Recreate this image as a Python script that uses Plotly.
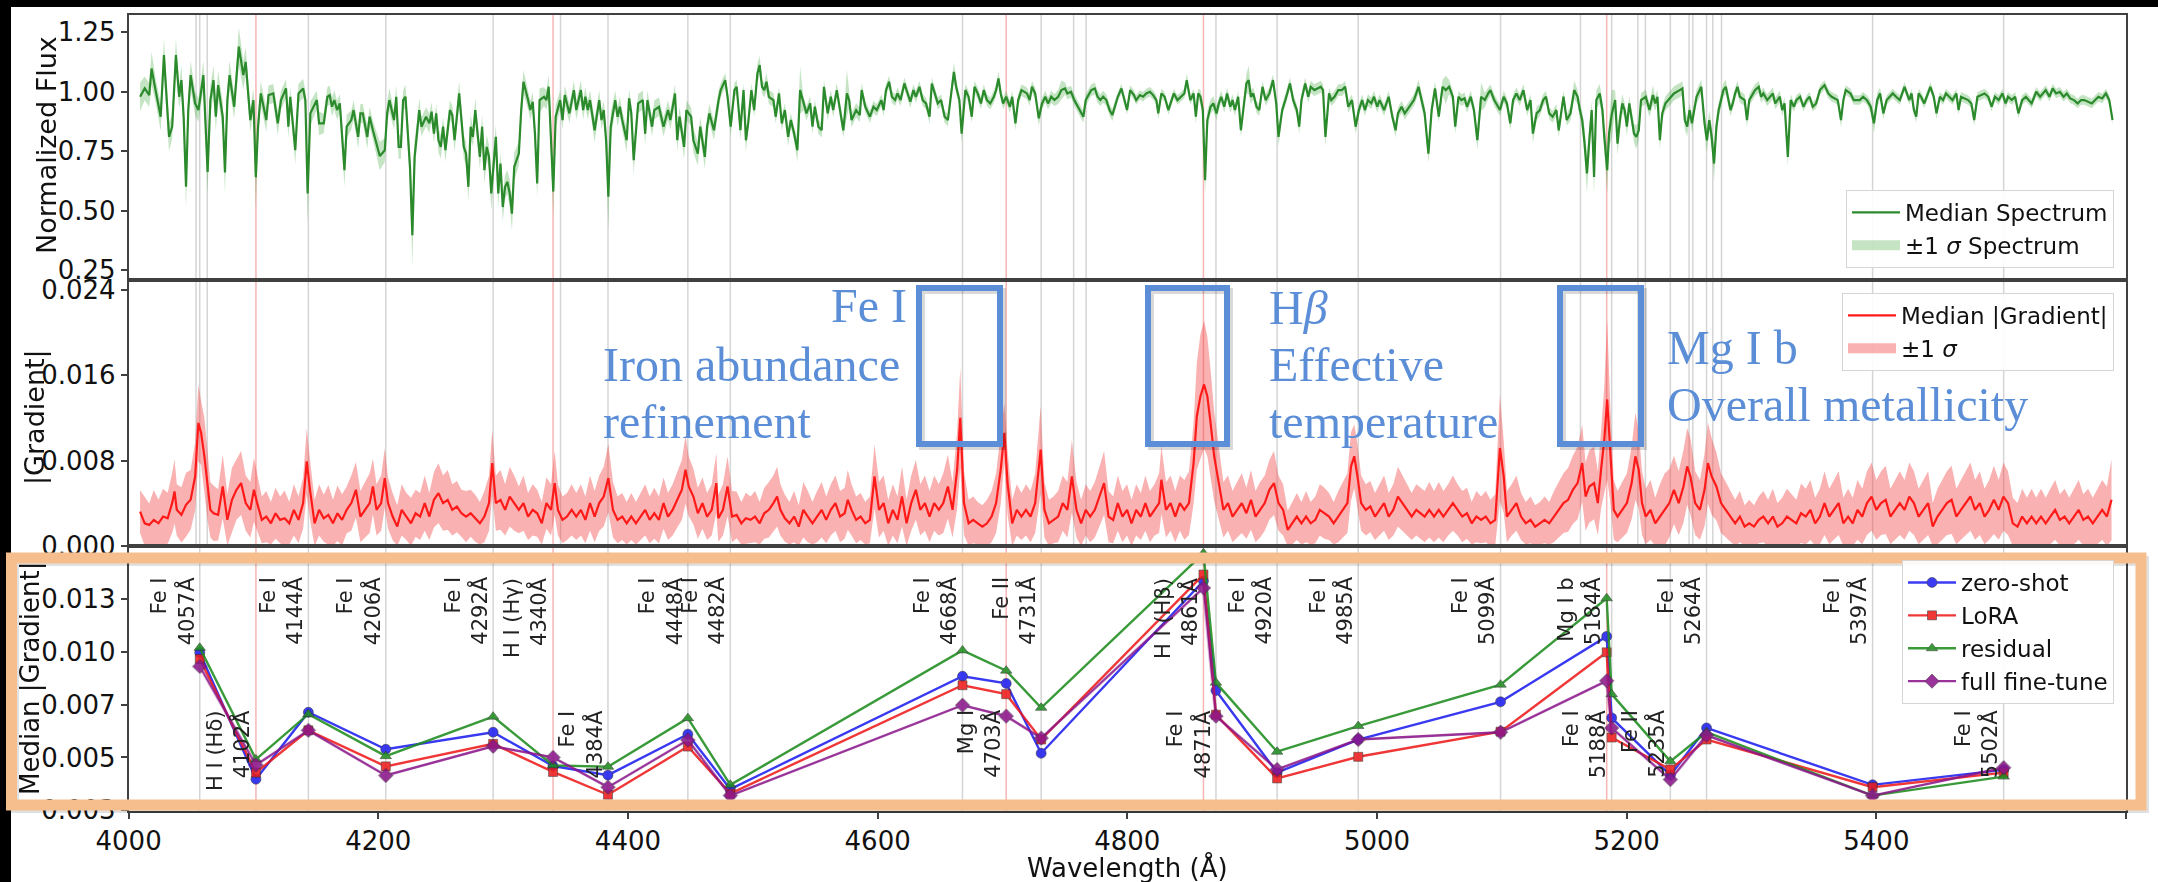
import numpy as np
import plotly.graph_objects as go
from plotly.subplots import make_subplots

W, H = 2158, 882
FONT = "DejaVu Sans"
SERIF = "Liberation Serif"
BLUE = "#5B8ED6"
ORANGE = "#F6BD8D"

# ---------------- top panel: median normalized flux ----------------
FLUX_WAVE = [
4009.2, 4012.9, 4016.5, 4018.4, 4022.1, 4025.7, 4028.3, 4032.4, 4034.9, 4037.9,
4040.5, 4042.3, 4044.1, 4046.0, 4047.8, 4049.7, 4053.3, 4055.9, 4057.7, 4059.9,
4063.3, 4065.5, 4068.0, 4069.9, 4071.7, 4075.4, 4077.2, 4079.1, 4080.9, 4084.6,
4088.3, 4091.9, 4093.8, 4097.5, 4100.0, 4101.9, 4103.7, 4105.9, 4110.3, 4112.1,
4115.9, 4119.5, 4122.1, 4126.1, 4128.0, 4129.5, 4133.5, 4136.1, 4139.8, 4141.6,
4143.4, 4145.6, 4150.8, 4152.6, 4156.3, 4159.2, 4161.1, 4162.9, 4164.8, 4167.0,
4169.2, 4172.9, 4174.7, 4178.4, 4180.2, 4183.9, 4185.7, 4187.6, 4191.2, 4193.1,
4195.7, 4199.3, 4201.2, 4205.2, 4207.1, 4208.9, 4212.6, 4214.4, 4216.3, 4218.1,
4219.9, 4221.8, 4225.4, 4227.3, 4229.1, 4231.0, 4232.8, 4234.6, 4238.3, 4240.9,
4242.7, 4244.6, 4246.4, 4248.2, 4250.1, 4251.9, 4253.8, 4257.4, 4259.3, 4261.1,
4264.8, 4268.5, 4270.3, 4272.2, 4274.0, 4275.8, 4277.7, 4281.4, 4283.2, 4285.0,
4286.9, 4288.7, 4290.5, 4294.2, 4296.1, 4297.9, 4299.7, 4301.6, 4303.4, 4305.3,
4307.1, 4308.9, 4312.6, 4314.5, 4316.3, 4320.0, 4321.8, 4323.7, 4325.5, 4327.3,
4329.2, 4332.8, 4334.7, 4336.5, 4338.4, 4340.2, 4342.1, 4345.7, 4347.6, 4349.4,
4353.1, 4356.7, 4358.6, 4362.3, 4364.1, 4365.9, 4367.8, 4369.6, 4373.3, 4377.0,
4378.8, 4380.6, 4382.5, 4384.3, 4386.2, 4389.8, 4391.7, 4393.5, 4395.4, 4399.0,
4400.9, 4402.7, 4404.6, 4406.4, 4408.2, 4411.9, 4413.8, 4415.6, 4419.3, 4421.1,
4424.8, 4428.5, 4432.1, 4434.0, 4437.7, 4439.5, 4441.3, 4445.0, 4446.8, 4450.6,
4452.4, 4456.0, 4457.9, 4461.6, 4463.4, 4465.2, 4468.9, 4472.6,
4474.3, 4477.9, 4479.8, 4482.3, 4485.3, 4487.1, 4490.1, 4492.6, 4494.5, 4496.3,
4498.9, 4501.1, 4503.7, 4505.5, 4507.4, 4509.2, 4511.0, 4512.9, 4516.5, 4518.4,
4521.0, 4523.2, 4525.7, 4528.3, 4530.5, 4533.1, 4535.7, 4537.9, 4540.5, 4543.0,
4546.0, 4547.8, 4549.7, 4552.6, 4555.2, 4557.0, 4560.0, 4562.5, 4564.4, 4567.3,
4569.9, 4572.5, 4575.4, 4577.2, 4579.1, 4582.8, 4585.7, 4587.2, 4590.1, 4593.8,
4596.7, 4599.3, 4603.0, 4604.8, 4606.7, 4609.2, 4611.4, 4614.0, 4615.9, 4618.4,
4621.4, 4623.2, 4626.2, 4628.7, 4630.6, 4633.5, 4636.1, 4638.7, 4641.6, 4643.4,
4646.0, 4648.2, 4650.8, 4653.7, 4656.3, 4659.3, 4661.1, 4662.9, 4665.5, 4667.3,
4670.3, 4672.9, 4675.4, 4677.6, 4680.2, 4682.8, 4685.0, 4687.6, 4690.2, 4693.1,
4694.9, 4696.8, 4698.6, 4700.5, 4703.0, 4706.0, 4707.8, 4710.4, 4712.6, 4715.2,
4719.6, 4721.8, 4723.6, 4726.2, 4729.1, 4731.7, 4734.3, 4736.5, 4739.1, 4741.6,
4744.6, 4747.2, 4750.1, 4752.0, 4754.9, 4757.5, 4762.2, 4764.8, 4766.7, 4771.1,
4774.0, 4776.2, 4778.4, 4780.6, 4783.2, 4785.8, 4788.0, 4790.6, 4792.4, 4795.3,
4797.9, 4799.8, 4802.3, 4805.3, 4807.1, 4810.1, 4812.6, 4815.2, 4818.1, 4820.7,
4823.3, 4824.8, 4827.3, 4829.9, 4832.9, 4834.7, 4837.3, 4840.2, 4843.2, 4845.7,
4847.6, 4850.5, 4853.1, 4854.9, 4856.8, 4858.6, 4860.5, 4862.3, 4864.1, 4866.7,
4868.9, 4871.5, 4873.3, 4875.2, 4877.7, 4879.9, 4882.5, 4884.3, 4886.2, 4888.8,
4891.0, 4893.5, 4895.4, 4897.2, 4899.1, 4900.9, 4903.5, 4905.7, 4908.3, 4910.8,
4913.8, 4916.7, 4919.3, 4921.1, 4924.1, 4926.6, 4928.5, 4930.3, 4932.9, 4935.8,
4937.7, 4939.5, 4942.5, 4945.0, 4946.9, 4949.8, 4952.4, 4955.0, 4956.8, 4958.7,
4961.6, 4963.4, 4966.0, 4969.0, 4971.9, 4974.5, 4977.0, 4980.0, 4982.9, 4985.5,
4988.1, 4990.3, 4992.8, 4995.4, 4997.6, 5000.2, 5002.1, 5005.7, 5009.4, 5012.3,
5014.9, 5016.8, 5019.7, 5022.3, 5026.0, 5029.6, 5033.3,
5038.2, 5041.2, 5043.8, 5046.5, 5049.5, 5052.5, 5055.1, 5057.8, 5060.8, 5062.7,
5065.3, 5067.6, 5070.2, 5072.1, 5075.1, 5077.7, 5080.4, 5083.4, 5086.4, 5089.1,
5090.9, 5093.9, 5098.5, 5101.5, 5104.1, 5106.8, 5109.0, 5111.7, 5114.3, 5117.3,
5120.3, 5123.0, 5124.9, 5127.9, 5130.5, 5133.1, 5135.4, 5138.0, 5140.7, 5143.7,
5145.6, 5147.5, 5149.4, 5152.0, 5155.0, 5158.0, 5160.7, 5162.5, 5164.4, 5166.3,
5168.2, 5170.1, 5172.0, 5173.9, 5175.7, 5178.4, 5180.6, 5182.1, 5184.4, 5185.9,
5188.2, 5190.8, 5192.7, 5194.6, 5196.5, 5198.4, 5200.2, 5202.1, 5204.0, 5205.9,
5207.8, 5209.7, 5211.5, 5215.3, 5218.3, 5221.0, 5222.9, 5224.7, 5226.6, 5228.5,
5231.1, 5233.4, 5237.9, 5242.5, 5244.7, 5246.6, 5248.5, 5250.4, 5252.3, 5254.1,
5256.0, 5259.8, 5262.4, 5264.3, 5266.2, 5268.1, 5270.0, 5271.9, 5273.7, 5275.6,
5277.5, 5279.4, 5281.3, 5283.2, 5285.0, 5286.9, 5288.8, 5290.7, 5294.5, 5296.4,
5298.2, 5302.8, 5305.8, 5307.7, 5309.5, 5312.6, 5317.1, 5319.0, 5320.8, 5322.7,
5324.6, 5326.5, 5329.1, 5331.4, 5334.0, 5335.9, 5338.9, 5341.6, 5344.2, 5346.5,
5349.1, 5351.8, 5354.8, 5358.5, 5361.5, 5364.2, 5369.1, 5371.7, 5373.6, 5375.5,
5379.3, 5381.9, 5386.8, 5389.4, 5392.5, 5395.5, 5398.1, 5400.7, 5403.0, 5405.6,
5408.3, 5413.2, 5415.8, 5418.8, 5422.6, 5426.4, 5428.2, 5430.1, 5432.0, 5433.9,
5435.8, 5438.4, 5443.3, 5446.0, 5448.2, 5450.9, 5453.5, 5455.8, 5458.4, 5461.0,
5464.1, 5465.9, 5467.8, 5473.5, 5476.1, 5478.4, 5481.0, 5486.7, 5489.7, 5492.3,
5495.0, 5498.0, 5501.0, 5503.6, 5505.5, 5508.5, 5511.2, 5513.8, 5516.8, 5519.8,
5524.4, 5528.1, 5531.2, 5535.7, 5538.7, 5541.3, 5544.0, 5547.0, 5550.0, 5552.6,
5555.3, 5558.3, 5561.3, 5564.0, 5566.6, 5569.6, 5572.6, 5575.3, 5577.9, 5580.9,
5583.9, 5586.6, 5589.2]

FLUX_MEDIAN = [
0.979, 1.014, 0.986, 1.098, 0.993, 0.895, 1.154, 0.810, 0.853, 1.154,
0.979, 1.049, 0.895, 0.600, 0.923, 1.070, 0.951, 0.923, 0.986, 1.070,
0.663, 0.965, 1.049, 0.895, 1.028, 0.895, 0.660, 0.965, 1.070, 0.937,
1.190, 1.070, 1.126, 0.881, 0.965, 0.640, 0.853, 0.993, 0.881, 0.986,
0.993, 0.867, 0.965, 1.014, 0.853, 0.979, 0.754, 0.993, 1.014, 0.965,
0.572, 0.909, 0.965, 0.867, 0.867, 0.979, 0.986, 0.937, 0.965, 0.923,
0.951, 0.670, 0.853, 0.881, 0.923, 0.810, 0.909, 0.909, 0.810, 0.895,
0.838, 0.768, 0.730, 0.754, 0.909, 0.965, 0.881, 0.979, 0.768, 0.768,
0.965, 0.979, 0.684, 0.396, 0.726, 0.824, 0.923, 0.853, 0.895, 0.867,
0.916, 0.824, 0.909, 0.796, 0.768, 0.853, 0.754, 0.923, 0.902, 0.796,
0.993, 0.768, 0.740, 0.600, 0.853, 0.810, 0.923, 0.726, 0.853, 0.670,
0.768, 0.726, 0.572, 0.810, 0.572, 0.698, 0.515, 0.600, 0.621, 0.572,
0.487, 0.684, 0.740, 0.923, 1.042, 0.965, 0.923, 0.958, 0.824, 0.614,
0.965, 0.979, 0.965, 1.021, 0.768, 0.580, 0.895, 0.965, 0.881, 0.986,
0.909, 1.007, 0.923, 1.007, 0.923, 0.979, 0.923, 0.965, 0.838, 0.965,
0.881, 0.923, 0.796, 0.558, 0.853, 0.965, 0.895, 0.937, 0.881, 0.796,
0.972, 0.909, 0.712, 0.853, 0.951, 0.965, 0.824, 0.965, 0.853, 0.923,
0.937, 0.853, 0.923, 0.881, 0.993, 0.796, 0.895, 0.768, 0.923, 0.895,
0.796, 0.740, 0.853, 0.726, 0.853, 0.909, 0.838, 0.965,
1.007, 1.049, 0.979, 0.853, 1.007, 1.021, 0.838, 1.007, 0.796, 0.867,
1.007, 0.923, 1.077, 1.112, 1.021, 1.007, 1.042, 0.979, 0.965, 0.895,
0.993, 0.867, 0.923, 0.810, 0.881, 0.824, 0.754, 1.007, 0.951, 0.909,
0.951, 0.853, 0.937, 0.853, 0.838, 1.021, 0.909, 0.979, 0.923, 1.007,
0.923, 0.838, 0.993, 0.965, 0.881, 0.923, 0.902, 1.007, 0.937, 0.895,
0.937, 0.923, 0.965, 0.923, 1.007, 1.042, 0.979, 0.965, 0.993, 0.965,
1.035, 1.007, 0.958, 1.007, 0.979, 1.021, 0.965, 0.951, 0.895, 1.035,
0.993, 0.951, 0.965, 0.895, 0.881, 1.021, 1.084, 1.021, 0.965, 0.824,
1.007, 0.979, 0.895, 1.021, 0.993, 0.951, 1.007, 0.965, 0.951, 0.979,
1.007, 1.056, 0.993, 0.951, 0.979, 0.937, 0.979, 0.867, 0.965, 1.007,
0.993, 0.965, 1.021, 0.993, 0.888, 0.951, 0.979, 0.951, 0.979, 0.965,
0.979, 1.007, 1.014, 0.993, 1.000, 0.965, 0.923, 0.895, 0.965, 1.007,
1.014, 0.979, 0.965, 0.979, 0.965, 0.923, 0.902, 0.951, 0.979, 1.014,
0.965, 0.923, 1.007, 0.986, 0.965, 0.986, 0.979, 0.993, 1.000, 0.986,
0.965, 0.909, 0.993, 0.979, 0.923, 0.951, 0.993, 0.965, 0.979, 0.993,
1.049, 0.965, 0.993, 0.895, 0.993, 0.979, 0.923, 0.628, 0.881, 0.937,
0.951, 0.909, 0.951, 0.979, 0.937, 0.993, 0.937, 0.965, 0.923, 0.979,
0.838, 0.965, 1.035, 1.049, 0.979, 0.993, 0.937, 0.923, 1.021, 0.965,
0.993, 1.049, 0.951, 0.810, 0.923, 0.965, 1.007, 1.035, 0.965, 0.923,
0.853, 0.965, 1.035, 0.979, 1.021, 1.007, 1.014, 1.021, 1.007, 0.810,
0.993, 0.965, 0.979, 1.007, 1.007, 1.021, 0.937, 0.965, 0.853, 0.923,
0.965, 0.923, 0.965, 0.951, 0.979, 0.937, 0.965, 0.923, 0.979, 0.895,
0.838, 0.909, 0.937, 0.909, 0.937, 0.965, 1.021,
0.909, 0.740, 0.923, 1.014, 0.895, 1.021, 1.007, 1.021, 0.979, 0.853,
0.979, 0.965, 0.972, 0.937, 0.979, 0.923, 0.796, 0.979, 0.965, 0.993,
1.007, 0.965, 0.923, 0.979, 0.951, 0.867, 0.965, 0.993, 0.965, 1.007,
0.923, 0.965, 0.824, 0.909, 0.923, 0.965, 0.979, 0.909, 0.895, 0.923,
0.838, 0.909, 0.979, 0.881, 0.909, 1.007, 0.979, 0.923, 0.881, 0.782,
0.656, 0.796, 0.923, 0.642, 0.965, 0.993, 0.923, 0.810, 0.670, 0.824,
0.909, 0.965, 0.782, 0.881, 0.951, 0.923, 0.853, 0.951, 0.895, 0.824,
0.810, 0.838, 0.965, 0.979, 0.923, 0.986, 0.951, 0.979, 0.796, 0.909,
0.951, 0.965, 0.993, 1.007, 1.014, 0.881, 0.853, 0.923, 0.867, 0.923,
0.979, 1.021, 0.867, 0.796, 0.881, 0.810, 0.698, 0.853, 0.923, 0.965,
1.007, 1.021, 0.965, 0.923, 0.951, 0.993, 1.021, 0.979, 0.965, 0.881,
0.965, 1.007, 1.021, 0.979, 0.993, 0.965, 0.993, 0.951, 0.965, 0.979,
0.923, 0.951, 0.726, 0.965, 0.937, 0.965, 0.979, 0.937, 0.965, 0.979,
0.937, 0.951, 1.007, 1.028, 0.993, 0.979, 0.965, 0.881, 0.965, 1.007,
0.993, 0.965, 0.965, 0.979, 0.965, 0.937, 0.867, 0.965, 0.993, 0.909,
0.965, 0.993, 0.979, 0.965, 1.021, 0.965, 0.993, 0.923, 0.895, 0.993,
0.979, 0.951, 1.021, 0.979, 0.909, 0.979, 0.965, 0.993, 0.979, 0.965,
0.993, 0.923, 0.979, 0.965, 0.951, 0.881, 0.979, 0.993, 0.979, 0.937,
0.979, 0.965, 0.993, 0.951, 0.979, 0.965, 0.979, 0.909, 0.965, 0.979,
0.951, 1.000, 0.979, 1.007, 0.979, 1.014, 0.993, 1.000, 0.979, 0.993,
0.972, 0.965, 0.951, 0.965, 0.965, 0.958, 0.951, 0.965, 0.979, 0.972,
0.993, 0.965, 0.881]

FLUX_SIGMA = [
0.06, 0.05, 0.05, 0.07, 0.05, 0.06, 0.07, 0.06, 0.05, 0.07,
0.05, 0.06, 0.06, 0.09, 0.06, 0.06, 0.05, 0.05, 0.05, 0.06,
0.09, 0.06, 0.06, 0.06, 0.06, 0.06, 0.09, 0.06, 0.06, 0.05,
0.08, 0.06, 0.06, 0.05, 0.05, 0.13, 0.06, 0.05, 0.05, 0.04,
0.04, 0.05, 0.04, 0.04, 0.05, 0.04, 0.06, 0.04, 0.04, 0.04,
0.13, 0.05, 0.04, 0.05, 0.04, 0.04, 0.04, 0.04, 0.04, 0.04,
0.04, 0.07, 0.05, 0.04, 0.04, 0.05, 0.04, 0.04, 0.05, 0.04,
0.04, 0.05, 0.06, 0.05, 0.05, 0.05, 0.04, 0.05, 0.05, 0.05,
0.04, 0.05, 0.07, 0.13, 0.07, 0.05, 0.05, 0.04, 0.04, 0.04,
0.04, 0.04, 0.04, 0.05, 0.05, 0.04, 0.05, 0.04, 0.04, 0.05,
0.05, 0.05, 0.05, 0.06, 0.05, 0.04, 0.05, 0.05, 0.05, 0.06,
0.05, 0.05, 0.07, 0.05, 0.06, 0.05, 0.06, 0.05, 0.05, 0.06,
0.07, 0.06, 0.05, 0.05, 0.05, 0.04, 0.04, 0.04, 0.05, 0.06,
0.05, 0.04, 0.04, 0.05, 0.06, 0.10, 0.05, 0.04, 0.04, 0.04,
0.04, 0.04, 0.04, 0.04, 0.04, 0.04, 0.04, 0.04, 0.05, 0.04,
0.04, 0.04, 0.06, 0.14, 0.06, 0.04, 0.04, 0.04, 0.04, 0.05,
0.04, 0.04, 0.06, 0.04, 0.04, 0.04, 0.05, 0.04, 0.04, 0.04,
0.04, 0.04, 0.04, 0.04, 0.04, 0.05, 0.04, 0.05, 0.04, 0.04,
0.05, 0.05, 0.04, 0.05, 0.04, 0.04, 0.04, 0.04,
0.03, 0.03, 0.03, 0.04, 0.03, 0.03, 0.04, 0.03, 0.05, 0.03,
0.03, 0.03, 0.04, 0.04, 0.03, 0.03, 0.04, 0.03, 0.03, 0.03,
0.03, 0.03, 0.03, 0.04, 0.03, 0.03, 0.05, 0.10, 0.03, 0.03,
0.03, 0.03, 0.03, 0.03, 0.03, 0.03, 0.03, 0.03, 0.03, 0.03,
0.03, 0.03, 0.10, 0.03, 0.03, 0.03, 0.03, 0.03, 0.025, 0.025,
0.025, 0.025, 0.025, 0.025, 0.025, 0.025, 0.025, 0.025, 0.025, 0.025,
0.025, 0.025, 0.025, 0.025, 0.025, 0.025, 0.025, 0.025, 0.03, 0.025,
0.025, 0.025, 0.025, 0.025, 0.025, 0.03, 0.04, 0.03, 0.025, 0.04,
0.025, 0.025, 0.025, 0.025, 0.025, 0.025, 0.025, 0.025, 0.025, 0.025,
0.025, 0.03, 0.025, 0.025, 0.025, 0.025, 0.025, 0.03, 0.025, 0.025,
0.025, 0.025, 0.025, 0.025, 0.03, 0.025, 0.025, 0.025, 0.025, 0.025,
0.03, 0.04, 0.025, 0.025, 0.025, 0.025, 0.025, 0.025, 0.025, 0.025,
0.025, 0.025, 0.025, 0.025, 0.025, 0.025, 0.025, 0.025, 0.02, 0.02,
0.02, 0.02, 0.02, 0.02, 0.02, 0.02, 0.02, 0.02, 0.02, 0.02,
0.02, 0.025, 0.02, 0.02, 0.02, 0.02, 0.02, 0.02, 0.02, 0.02,
0.03, 0.02, 0.02, 0.03, 0.02, 0.03, 0.04, 0.06, 0.04, 0.03,
0.03, 0.03, 0.025, 0.025, 0.025, 0.025, 0.025, 0.025, 0.025, 0.025,
0.03, 0.025, 0.04, 0.06, 0.03, 0.025, 0.025, 0.025, 0.025, 0.025,
0.025, 0.025, 0.025, 0.04, 0.025, 0.025, 0.025, 0.025, 0.025, 0.025,
0.03, 0.025, 0.025, 0.025, 0.025, 0.025, 0.025, 0.025, 0.025, 0.04,
0.025, 0.025, 0.025, 0.025, 0.025, 0.025, 0.025, 0.025, 0.03, 0.025,
0.025, 0.025, 0.025, 0.025, 0.025, 0.025, 0.025, 0.025, 0.025, 0.025,
0.03, 0.025, 0.025, 0.025, 0.025, 0.025, 0.03,
0.03, 0.04, 0.03, 0.03, 0.025, 0.03, 0.06, 0.03, 0.025, 0.03,
0.025, 0.025, 0.025, 0.025, 0.025, 0.025, 0.04, 0.06, 0.03, 0.025,
0.025, 0.025, 0.025, 0.025, 0.025, 0.03, 0.025, 0.025, 0.025, 0.025,
0.025, 0.025, 0.04, 0.03, 0.025, 0.025, 0.025, 0.025, 0.025, 0.025,
0.03, 0.025, 0.025, 0.025, 0.03, 0.04, 0.03, 0.03, 0.04, 0.06,
0.08, 0.06, 0.04, 0.08, 0.04, 0.04, 0.04, 0.06, 0.10, 0.06,
0.10, 0.04, 0.05, 0.04, 0.04, 0.03, 0.04, 0.03, 0.03, 0.04,
0.05, 0.04, 0.03, 0.03, 0.03, 0.04, 0.03, 0.03, 0.04, 0.03,
0.03, 0.03, 0.03, 0.03, 0.03, 0.04, 0.04, 0.03, 0.04, 0.03,
0.03, 0.03, 0.04, 0.05, 0.04, 0.05, 0.07, 0.04, 0.03, 0.03,
0.03, 0.03, 0.025, 0.025, 0.025, 0.025, 0.025, 0.025, 0.025, 0.03,
0.025, 0.025, 0.025, 0.025, 0.025, 0.025, 0.025, 0.025, 0.025, 0.025,
0.025, 0.025, 0.04, 0.025, 0.02, 0.02, 0.02, 0.02, 0.02, 0.02,
0.02, 0.02, 0.02, 0.02, 0.02, 0.02, 0.02, 0.03, 0.02, 0.02,
0.02, 0.02, 0.02, 0.02, 0.02, 0.025, 0.04, 0.03, 0.025, 0.025,
0.02, 0.02, 0.02, 0.02, 0.02, 0.02, 0.02, 0.02, 0.025, 0.02,
0.02, 0.02, 0.02, 0.02, 0.025, 0.02, 0.02, 0.02, 0.02, 0.02,
0.02, 0.02, 0.02, 0.02, 0.02, 0.025, 0.02, 0.02, 0.02, 0.02,
0.02, 0.02, 0.02, 0.02, 0.02, 0.02, 0.02, 0.02, 0.02, 0.02,
0.02, 0.02, 0.02, 0.02, 0.02, 0.02, 0.02, 0.02, 0.02, 0.02,
0.02, 0.02, 0.02, 0.02, 0.02, 0.02, 0.02, 0.02, 0.02, 0.02,
0.02, 0.02, 0.02]

# ---------------- middle panel: |gradient| (units of 1e-3) ----------------
GRAD_WAVE = [
4009.2, 4012.9, 4016.5, 4020.2, 4023.9, 4027.6, 4031.3, 4034.9, 4036.8, 4038.6,
4042.3, 4046.0, 4049.7, 4053.3, 4055.9, 4058.1, 4060.7, 4063.3, 4065.5, 4068.0,
4071.7, 4075.4, 4079.1, 4082.8, 4086.4, 4090.1, 4093.8, 4097.5, 4100.4, 4103.0,
4106.7, 4110.3, 4114.0, 4117.7, 4121.4, 4125.0, 4128.7, 4132.4, 4136.1, 4139.8,
4142.7, 4145.3, 4149.0, 4152.6, 4156.3, 4160.0, 4163.7, 4167.3, 4171.0, 4174.7,
4178.4, 4182.1, 4185.7, 4189.4, 4193.1, 4195.7, 4198.6, 4202.3, 4205.2, 4207.8,
4211.5, 4215.2, 4218.8, 4222.5, 4226.2, 4229.9, 4233.5, 4237.2, 4240.9, 4244.6,
4248.2, 4251.9, 4255.6, 4259.3, 4263.0, 4266.6, 4270.3, 4274.0, 4277.7, 4281.4,
4285.0, 4288.7, 4291.3, 4294.2, 4297.9, 4301.6, 4305.3, 4308.9, 4312.6, 4316.3,
4320.0, 4323.7, 4327.3, 4331.0, 4334.7, 4338.4, 4341.3, 4343.9, 4347.6, 4351.2,
4354.9, 4358.6, 4362.3, 4365.9, 4369.6, 4373.3, 4377.0, 4380.6, 4384.3, 4388.0,
4391.7, 4395.4, 4399.0, 4402.7, 4406.4, 4410.1, 4413.8, 4417.4, 4421.1, 4424.8,
4428.5, 4432.1, 4435.8, 4439.5, 4443.2, 4446.1, 4448.7, 4452.4, 4456.0, 4459.7,
4463.4, 4467.1, 4470.8,
4472.4, 4476.1, 4479.8, 4483.4, 4487.1, 4490.8, 4494.5, 4498.2, 4501.8, 4505.5,
4509.2, 4512.9, 4516.5, 4519.5, 4522.1, 4525.7, 4529.4, 4533.1, 4536.8, 4540.5,
4544.1, 4547.8, 4551.5, 4555.2, 4558.8, 4562.5, 4566.2, 4569.9, 4573.6, 4576.1,
4579.1, 4582.8, 4586.4, 4590.1, 4593.8, 4597.5, 4601.1, 4604.8, 4608.5, 4612.2,
4615.9, 4619.5, 4623.2, 4626.9, 4630.6, 4634.2, 4637.9, 4641.6, 4645.3, 4649.0,
4652.6, 4656.3, 4660.0, 4663.7, 4666.2, 4669.2, 4672.9, 4676.5, 4680.2, 4683.9,
4687.6, 4691.3, 4694.9, 4698.6, 4701.5, 4704.1, 4707.8, 4711.5, 4715.2, 4718.8,
4722.5, 4726.2, 4730.6, 4733.6, 4737.2, 4740.9, 4744.6, 4748.3, 4752.0, 4755.6,
4759.3, 4763.0, 4766.7, 4770.3, 4774.0, 4777.7, 4781.4, 4785.0, 4788.7, 4792.4,
4796.1, 4799.8, 4803.4, 4807.1, 4810.8, 4814.5, 4818.1, 4821.8, 4825.5, 4827.3,
4831.0, 4834.7, 4838.4, 4842.1, 4845.7, 4849.4, 4853.1, 4855.7, 4858.6, 4861.5,
4864.1, 4866.7, 4869.6, 4873.3, 4877.0, 4880.7, 4884.3, 4888.0, 4891.7, 4895.4,
4899.1, 4902.7, 4906.4, 4910.1, 4913.8, 4917.5, 4921.1, 4924.8, 4928.5, 4932.2,
4935.8, 4939.5, 4943.2, 4946.9, 4950.6, 4954.2, 4957.9, 4961.6, 4965.3, 4969.0,
4972.6, 4976.3, 4979.2, 4981.8, 4984.4, 4987.3, 4991.0, 4994.7, 4998.4, 5002.0,
5005.7, 5009.4, 5013.1, 5016.8, 5020.4, 5024.1, 5027.8, 5031.5,
5038.2, 5041.9, 5045.7, 5049.5, 5053.2, 5057.0, 5060.8, 5064.6, 5068.3, 5072.1,
5075.9, 5079.6, 5083.4, 5087.2, 5090.9, 5094.7, 5098.5, 5101.5, 5104.1, 5107.9,
5111.7, 5115.4, 5119.2, 5123.0, 5126.7, 5130.5, 5134.3, 5138.0, 5141.8, 5145.6,
5149.4, 5153.1, 5156.9, 5160.7, 5164.4, 5167.1, 5170.1, 5173.9, 5176.9, 5179.5,
5182.1, 5184.4, 5187.0, 5189.7, 5192.7, 5196.5, 5200.2, 5204.0, 5207.0, 5209.7,
5212.3, 5215.3, 5219.1, 5222.9, 5226.6, 5230.4, 5234.2, 5237.9, 5241.7, 5245.5,
5248.5, 5251.1, 5254.9, 5258.7, 5262.4, 5265.1, 5268.1, 5271.9, 5275.6, 5279.4,
5283.2, 5286.9, 5290.7, 5294.5, 5298.2, 5302.0, 5305.8, 5309.5, 5313.3, 5317.1,
5320.8, 5324.6, 5328.4, 5332.2, 5335.9, 5339.7, 5343.5, 5347.2, 5351.0, 5354.8,
5358.5, 5362.3, 5366.1, 5369.8, 5373.6, 5377.4, 5381.1, 5384.9, 5388.7, 5392.5,
5396.2, 5400.0, 5403.8, 5407.5, 5411.3, 5415.1, 5418.8, 5422.6, 5426.4, 5430.1,
5433.9, 5437.7, 5441.5, 5445.2, 5449.0, 5452.8, 5456.5, 5460.3, 5464.1, 5467.8,
5471.6, 5475.4, 5479.1, 5482.9, 5486.7, 5490.4, 5494.2, 5498.0, 5501.8, 5505.5,
5509.3, 5513.1, 5516.8, 5520.6, 5524.4, 5528.1, 5531.9, 5535.7, 5539.4, 5543.2,
5547.0, 5550.8, 5554.5, 5558.3, 5562.1, 5565.8, 5569.6, 5573.4, 5577.1, 5580.9,
5584.7, 5588.4]

GRAD_MEDIAN_E3 = [
3.23, 2.13, 1.98, 2.45, 2.13, 2.76, 2.60, 4.02, 5.11, 3.39,
2.92, 3.86, 4.33, 6.52, 11.54, 10.60, 8.41, 5.58, 3.39, 3.07,
2.92, 5.58, 2.45, 4.33, 5.27, 5.90, 4.02, 3.39, 5.27, 4.02,
2.45, 2.76, 2.13, 3.07, 2.45, 2.60, 2.13, 3.39, 2.45, 4.02,
7.94, 5.27, 2.13, 3.39, 2.60, 2.92, 2.13, 3.07, 2.45, 3.39,
4.02, 5.27, 2.76, 3.39, 4.02, 5.58, 3.39, 4.02, 6.37, 4.02,
2.76, 1.82, 3.39, 2.76, 2.13, 3.07, 2.76, 4.02, 2.76, 4.33,
4.96, 4.02, 4.33, 3.39, 3.70, 3.07, 2.76, 3.07, 2.60, 2.13,
2.76, 4.02, 7.78, 4.02, 4.33, 3.39, 4.64, 4.02, 3.39, 4.02,
2.76, 3.39, 3.07, 2.13, 4.02, 3.39, 5.90, 3.39, 2.45, 2.76,
3.39, 2.76, 3.39, 2.45, 4.02, 2.76, 4.02, 4.64, 6.37, 3.39,
2.45, 2.76, 2.13, 2.76, 2.13, 2.76, 3.39, 2.45, 3.07, 2.45,
4.02, 2.76, 3.39, 4.33, 5.27, 7.15, 5.58, 4.64, 3.07, 4.02,
2.76, 3.39, 5.90,
2.60, 3.39, 5.58, 2.76, 2.92, 2.13, 2.60, 2.45, 2.76, 2.13,
3.07, 3.39, 4.02, 4.64, 3.39, 2.60, 2.13, 2.76, 1.82, 3.39,
2.76, 2.13, 2.76, 3.39, 2.45, 3.39, 4.02, 2.76, 3.07, 4.33,
3.39, 2.45, 2.76, 2.13, 2.45, 6.52, 3.39, 4.02, 2.13, 3.39,
2.45, 4.64, 2.13, 4.02, 5.27, 3.39, 4.02, 2.76, 4.02, 3.39,
4.02, 5.58, 3.39, 7.15, 12.01, 4.02, 2.13, 2.45, 2.13, 1.82,
2.13, 2.76, 4.02, 7.15, 10.60, 5.90, 2.13, 3.39, 2.76, 3.39,
2.76, 4.02, 9.03, 3.39, 2.13, 2.45, 2.76, 4.02, 3.39, 6.52,
3.39, 2.13, 3.39, 2.76, 3.39, 4.64, 5.90, 2.76, 2.45, 4.02,
2.76, 3.39, 2.13, 3.39, 2.76, 4.02, 2.76, 3.39, 4.02, 6.21,
3.39, 4.02, 2.76, 4.02, 3.39, 4.02, 7.78, 12.17, 14.05, 15.15,
14.05, 11.54, 8.41, 5.90, 3.39, 4.02, 2.76, 3.39, 4.02, 3.07,
4.33, 2.76, 3.39, 4.02, 5.27, 5.90, 4.02, 3.39, 1.51, 2.13,
2.76, 2.13, 2.76, 2.13, 2.45, 3.39, 3.07, 2.76, 2.13, 2.76,
3.39, 4.02, 7.47, 8.41, 6.52, 4.02, 3.39, 3.70, 2.76, 3.39,
4.02, 2.76, 3.39, 4.64, 4.02, 3.39, 2.76, 3.39,
2.76, 3.39, 2.76, 3.39, 2.76, 3.39, 4.02, 3.39, 2.76, 3.07,
2.13, 2.76, 2.45, 2.76, 2.13, 2.45, 9.19, 6.52, 2.76, 3.39,
4.02, 2.76, 2.13, 2.45, 1.82, 2.13, 2.45, 2.13, 2.76, 3.39,
4.02, 4.33, 5.27, 5.90, 7.78, 4.64, 5.58, 5.90, 4.02, 7.15,
9.98, 13.74, 8.41, 3.39, 2.76, 3.39, 4.02, 5.90, 8.41, 7.15,
4.02, 2.76, 3.39, 2.13, 2.76, 3.39, 4.02, 5.27, 4.02, 5.58,
7.47, 6.52, 4.02, 3.39, 5.27, 7.78, 6.52, 5.58, 4.02, 3.39,
2.76, 2.13, 2.76, 1.82, 2.13, 1.82, 2.45, 2.76, 2.13, 2.76,
1.82, 2.13, 2.76, 2.45, 2.13, 3.07, 2.76, 3.39, 2.13, 2.76,
4.02, 2.76, 3.39, 4.02, 2.13, 2.76, 2.13, 3.39, 2.76, 4.02,
4.64, 3.39, 4.02, 4.33, 2.76, 3.39, 4.02, 3.39, 4.64, 4.02,
2.76, 3.39, 4.02, 1.82, 2.76, 3.39, 4.02, 4.33, 2.76, 3.39,
4.02, 4.64, 3.39, 4.02, 2.76, 3.39, 4.33, 3.39, 4.64, 4.02,
2.13, 1.82, 2.76, 2.13, 2.76, 2.13, 2.76, 2.13, 2.76, 3.39,
2.45, 2.76, 2.13, 2.76, 3.39, 2.45, 2.76, 2.13, 2.76, 3.39,
2.76, 4.33]

GRAD_SIGMA_E3 = [
2.0, 2.4, 2.0, 2.8, 2.2, 2.6, 2.4, 2.8, 3.0, 2.4,
2.6, 3.0, 2.8, 3.2, 3.6, 3.0, 3.6, 3.2, 2.6, 2.6,
2.4, 3.0, 2.4, 3.0, 2.8, 3.0, 2.6, 2.6, 3.0, 2.6,
2.2, 2.4, 2.0, 2.4, 2.2, 2.6, 2.0, 2.4, 2.2, 2.4,
3.1, 2.8, 2.2, 2.4, 2.2, 2.8, 2.2, 2.6, 2.4, 2.2,
2.6, 2.6, 2.4, 2.6, 2.8, 2.6, 2.4, 2.6, 2.8, 2.4,
2.2, 2.0, 2.4, 2.2, 2.4, 2.2, 2.2, 2.6, 2.2, 2.6,
2.8, 2.6, 2.8, 2.4, 2.4, 2.2, 2.4, 2.2, 2.2, 2.0,
2.4, 2.6, 3.1, 2.6, 2.8, 2.4, 2.8, 2.6, 2.2, 2.6,
2.2, 2.4, 2.2, 2.0, 2.4, 2.4, 3.0, 2.4, 2.2, 2.2,
2.4, 2.2, 2.4, 2.2, 2.6, 2.4, 2.6, 2.8, 3.2, 2.6,
2.2, 2.2, 2.0, 2.2, 2.0, 2.2, 2.4, 2.2, 2.4, 2.2,
2.4, 2.2, 2.4, 2.6, 2.8, 3.2, 2.8, 2.6, 2.4, 2.4,
2.2, 2.4, 2.8,
2.2, 2.4, 2.8, 2.4, 2.2, 2.0, 2.4, 2.2, 2.4, 2.0,
2.4, 2.6, 2.6, 2.8, 2.4, 2.2, 2.0, 2.4, 2.0, 2.6,
2.4, 2.0, 2.4, 2.6, 2.2, 2.4, 2.6, 2.4, 2.4, 2.8,
2.4, 2.2, 2.2, 2.0, 2.2, 3.0, 2.6, 2.6, 2.2, 2.4,
2.2, 2.8, 2.2, 2.6, 2.8, 2.4, 2.6, 2.4, 2.6, 2.4,
2.8, 3.0, 2.6, 3.6, 4.7, 3.0, 2.2, 2.2, 2.0, 2.0,
2.2, 2.4, 2.8, 3.2, 2.8, 3.0, 2.2, 2.4, 2.2, 2.4,
2.4, 2.8, 4.1, 2.6, 2.2, 2.2, 2.4, 2.6, 2.6, 3.4,
2.6, 2.2, 2.4, 2.4, 2.6, 2.8, 3.0, 2.4, 2.2, 2.6,
2.4, 2.4, 2.2, 2.4, 2.2, 2.6, 2.4, 2.4, 2.8, 3.2,
2.6, 2.6, 2.4, 2.6, 2.8, 3.0, 3.8, 5.0, 5.8, 6.0,
5.6, 5.0, 4.2, 3.4, 2.6, 2.6, 2.4, 2.6, 2.8, 2.4,
2.8, 2.4, 2.6, 2.6, 2.8, 3.0, 2.6, 2.4, 1.8, 2.0,
2.2, 2.0, 2.4, 2.0, 2.2, 2.4, 2.4, 2.2, 2.0, 2.4,
2.6, 2.8, 3.2, 3.0, 3.0, 2.6, 2.4, 2.4, 2.2, 2.4,
2.6, 2.2, 2.4, 2.8, 2.6, 2.4, 2.2, 2.4,
2.4, 2.6, 2.4, 2.6, 2.4, 2.4, 2.6, 2.4, 2.4, 2.4,
2.0, 2.4, 2.2, 2.4, 2.2, 2.4, 5.0, 3.4, 2.4, 2.4,
2.6, 2.2, 2.0, 2.2, 2.0, 2.0, 2.2, 2.0, 2.4, 2.6,
2.8, 3.0, 3.2, 3.4, 3.6, 3.2, 3.4, 3.4, 3.0, 3.6,
5.0, 7.5, 4.4, 2.8, 2.4, 2.6, 2.8, 3.4, 4.1, 3.6,
3.0, 2.6, 2.8, 2.4, 3.0, 3.4, 3.2, 3.2, 3.0, 3.4,
3.6, 3.6, 3.0, 2.8, 3.4, 3.8, 3.6, 3.2, 2.8, 2.6,
2.4, 2.2, 2.4, 2.0, 2.2, 2.0, 2.2, 2.4, 2.2, 2.6,
2.2, 2.4, 2.6, 2.4, 2.2, 2.8, 2.6, 2.8, 2.4, 2.6,
3.0, 2.6, 2.8, 3.0, 2.4, 2.6, 2.4, 2.8, 2.6, 3.0,
3.2, 2.8, 3.0, 3.2, 2.6, 2.8, 3.0, 2.8, 3.2, 3.0,
2.6, 2.8, 3.0, 2.2, 2.6, 2.8, 3.0, 3.2, 2.6, 2.8,
3.0, 3.2, 2.8, 3.0, 2.6, 2.8, 3.2, 2.8, 3.2, 3.0,
2.4, 2.2, 2.6, 2.4, 2.6, 2.4, 2.6, 2.4, 2.6, 2.8,
2.4, 2.6, 2.4, 2.6, 2.8, 2.4, 2.6, 2.4, 2.6, 2.8,
2.8, 3.8]

# ---------------- bottom panel: median |gradient| at spectral lines ----------------
LINE_WAVES = [4057, 4102, 4144, 4206, 4292, 4340, 4384, 4448, 4482, 4668, 4703, 4731,
              4861, 4871, 4920, 4985, 5099, 5184, 5188, 5235, 5264, 5397, 5502]
LINE_SPECIES = ["Fe I", "H I (Hδ)", "Fe I", "Fe I", "Fe I", "H I (Hγ)", "Fe I", "Fe I",
                "Fe I", "Fe I", "Mg I", "Fe II", "H I (Hβ)", "Fe I", "Fe I", "Fe I",
                "Fe I", "Mg I b", "Fe I", "Fe II", "Fe I", "Fe I", "Fe I"]
LINE_LABEL_POS = ["top", "bottom", "top", "top", "top", "top", "bottom", "top", "top",
                  "top", "bottom", "top", "top", "bottom", "top", "top", "top", "top",
                  "bottom", "bottom", "top", "top", "bottom"]
KEY_LINES = [4102, 4340, 4703, 4861, 5184]
EXTRA_LINES = [4054, 4063, 4346, 4757, 4767, 5163, 5209, 5215, 5250, 5253, 5269, 5276]

ZERO_SHOT = [0.00945, 0.00416, 0.00642, 0.00505, 0.00564, 0.00453, 0.00427, 0.00557,
             0.00390, 0.00811, 0.00774, 0.00492, 0.01504, 0.00739, 0.00434, 0.00538,
             0.00687, 0.01050, 0.00619, 0.00427, 0.00580, 0.00401, 0.00442]
LORA = [0.00907, 0.00434, 0.00571, 0.00452, 0.00523, 0.00436, 0.00376, 0.00514,
        0.00379, 0.00765, 0.00722, 0.00538, 0.01568, 0.00632, 0.00418, 0.00481,
        0.00566, 0.00947, 0.00545, 0.00443, 0.00538, 0.00395, 0.00434]
RESIDUAL = [0.00975, 0.00473, 0.00634, 0.00483, 0.00624, 0.00455, 0.00451, 0.00618,
            0.00401, 0.00959, 0.00841, 0.00661, 0.01800, 0.00778, 0.00497, 0.00587,
            0.00768, 0.01345, 0.00722, 0.00467, 0.00564, 0.00374, 0.00423]
FULL_FT = [0.00864, 0.00456, 0.00571, 0.00426, 0.00515, 0.00479, 0.00395, 0.00536,
           0.00374, 0.00672, 0.00626, 0.00543, 0.01438, 0.00626, 0.00443, 0.00538,
           0.00564, 0.00787, 0.00580, 0.00415, 0.00553, 0.00374, 0.00448]

FLUX_TICKS = [0.25, 0.50, 0.75, 1.00, 1.25]
FLUX_TICKTEXT = ["0.25", "0.50", "0.75", "1.00", "1.25"]
GRAD_TICKS = [0.0, 0.008, 0.016, 0.024]
GRAD_TICKTEXT = ["0.000", "0.008", "0.016", "0.024"]
MED_TICKS = [0.0034, 0.00479, 0.00675, 0.00951, 0.0134]
MED_TICKTEXT = ["0.003", "0.005", "0.007", "0.010", "0.013"]
X_TICKS = [4000, 4200, 4400, 4600, 4800, 5000, 5200, 5400, 5600]


def px(x):
    return x / W


def py(y):
    return 1 - y / H


fig = make_subplots(rows=3, cols=1, shared_xaxes=True, vertical_spacing=0)

GREEN_BAND = "rgba(60,165,60,0.30)"
RED_BAND = "rgba(240,70,70,0.42)"

# top panel
n = min(len(FLUX_WAVE), len(FLUX_MEDIAN), len(FLUX_SIGMA))
fw = np.array(FLUX_WAVE[:n])
fm = np.array(FLUX_MEDIAN[:n])
fs = np.array(FLUX_SIGMA[:n])
fig.add_trace(go.Scatter(x=fw, y=fm - fs, mode="lines", line=dict(width=0),
                         showlegend=False, hoverinfo="skip"), row=1, col=1)
fig.add_trace(go.Scatter(x=fw, y=fm + fs, mode="lines", line=dict(width=0), fill="tonexty",
                         fillcolor=GREEN_BAND, showlegend=False, hoverinfo="skip"), row=1, col=1)
fig.add_trace(go.Scatter(x=fw, y=fm, mode="lines", line=dict(color="#2B8A2B", width=2.2),
                         name="Median Spectrum", legend="legend"), row=1, col=1)
fig.add_trace(go.Scatter(x=[None], y=[None], mode="lines", line=dict(color=GREEN_BAND, width=18),
                         name="±1 <i>σ</i> Spectrum", legend="legend"), row=1, col=1)

# middle panel
m = min(len(GRAD_WAVE), len(GRAD_MEDIAN_E3), len(GRAD_SIGMA_E3))
gw = np.array(GRAD_WAVE[:m])
gm = np.array(GRAD_MEDIAN_E3[:m]) * 1e-3
gs = np.array(GRAD_SIGMA_E3[:m]) * 1e-3
fig.add_trace(go.Scatter(x=gw, y=np.maximum(gm - gs, 0), mode="lines", line=dict(width=0),
                         showlegend=False, hoverinfo="skip"), row=2, col=1)
fig.add_trace(go.Scatter(x=gw, y=gm + gs, mode="lines", line=dict(width=0), fill="tonexty",
                         fillcolor=RED_BAND, showlegend=False, hoverinfo="skip"), row=2, col=1)
fig.add_trace(go.Scatter(x=gw, y=gm, mode="lines", line=dict(color="#FF1A1A", width=2.2),
                         name="Median |Gradient|", legend="legend2"), row=2, col=1)
fig.add_trace(go.Scatter(x=[None], y=[None], mode="lines", line=dict(color=RED_BAND, width=18),
                         name="±1 <i>σ</i>", legend="legend2"), row=2, col=1)

# bottom panel
SERIES = [
    ("zero-shot", ZERO_SHOT, "#1F1FF0", "circle", 10),
    ("LoRA", LORA, "#EE1C1C", "square", 9),
    ("residual", RESIDUAL, "#1E8C1E", "triangle-up", 10),
    ("full fine-tune", FULL_FT, "#8A168A", "diamond", 11),
]
for name, vals, col, sym, sz in SERIES:
    fig.add_trace(go.Scatter(x=LINE_WAVES, y=vals, mode="lines+markers", name=name,
                             line=dict(color=col, width=2.4), opacity=0.88,
                             marker=dict(symbol=sym, size=sz, color=col,
                                         line=dict(color="rgba(40,40,40,0.55)", width=1)),
                             legend="legend3"), row=3, col=1)

# domains
XD = [px(128.6), px(2126)]
TOP = [py(280), py(15)]
MID = [py(546), py(280)]
BOT = [py(811), py(546)]

TICK_FONT = dict(family=FONT, size=26, color="#111")
axis_common = dict(showline=True, linecolor="#404040", linewidth=1.5, mirror=True,
                   showgrid=False, zeroline=False, automargin=False, tickfont=TICK_FONT)
fig.update_xaxes(**axis_common, domain=XD, range=[4000, 5600])
fig.update_xaxes(showticklabels=False, ticks="", row=1, col=1)
fig.update_xaxes(showticklabels=False, ticks="", row=2, col=1)
fig.update_xaxes(ticks="outside", ticklen=6, tickwidth=1.5, tickcolor="#404040",
                 tickvals=X_TICKS, ticktext=[str(v) for v in X_TICKS], row=3, col=1)

ytick = dict(ticks="outside", ticklen=6, tickwidth=1.5, tickcolor="#404040")
fig.update_yaxes(**axis_common, **ytick)
fig.update_yaxes(domain=TOP, range=[0.208, 1.323], tickvals=FLUX_TICKS,
                 ticktext=FLUX_TICKTEXT, row=1, col=1)
fig.update_yaxes(domain=MID, range=[0, 0.02494], tickvals=GRAD_TICKS,
                 ticktext=GRAD_TICKTEXT, row=2, col=1)
lo = np.log10(MED_TICKS[0])
step = np.log10(MED_TICKS[1]) - lo
fig.update_yaxes(domain=BOT, type="log", range=[lo - 0.002, lo + 5 * step],
                 tickvals=MED_TICKS, ticktext=MED_TICKTEXT, row=3, col=1)

# vertical reference lines
shapes = []
for w in EXTRA_LINES:
    shapes.append(dict(type="line", xref="x3", yref="paper", x0=w, x1=w,
                       y0=MID[0], y1=TOP[1], layer="below",
                       line=dict(color="rgba(150,150,150,0.40)", width=1.5)))
for w in LINE_WAVES:
    col = "rgba(235,90,90,0.45)" if w in KEY_LINES else "rgba(150,150,150,0.40)"
    shapes.append(dict(type="line", xref="x3", yref="paper", x0=w, x1=w,
                       y0=BOT[0], y1=TOP[1], layer="below", line=dict(color=col, width=1.5)))

# black frame strips of the screenshot
shapes.append(dict(type="rect", xref="paper", yref="paper", x0=0, x1=px(11), y0=0, y1=1,
                   fillcolor="black", line=dict(width=0), layer="above"))
shapes.append(dict(type="rect", xref="paper", yref="paper", x0=0, x1=1, y0=py(7), y1=1,
                   fillcolor="black", line=dict(width=0), layer="above"))

# highlight boxes
BOXES = [(919, 1000), (1148, 1227), (1560, 1641)]
for x0, x1 in BOXES:
    shapes.append(dict(type="rect", xref="paper", yref="paper",
                       x0=px(x0 + 3), x1=px(x1 + 3), y0=py(447), y1=py(291),
                       line=dict(color="rgba(0,0,0,0.15)", width=6), layer="above"))
    shapes.append(dict(type="rect", xref="paper", yref="paper",
                       x0=px(x0), x1=px(x1), y0=py(444), y1=py(288),
                       line=dict(color=BLUE, width=6), layer="above"))
shapes.append(dict(type="rect", xref="paper", yref="paper",
                   x0=px(14), x1=px(2144), y0=py(808), y1=py(561),
                   line=dict(color="rgba(0,0,0,0.12)", width=10), layer="above"))
shapes.append(dict(type="rect", xref="paper", yref="paper",
                   x0=px(11.5), x1=px(2141), y0=py(805), y1=py(558),
                   line=dict(color=ORANGE, width=11), layer="above"))

annotations = []
# line labels in bottom panel
for w, sp, pos in zip(LINE_WAVES, LINE_SPECIES, LINE_LABEL_POS):
    annotations.append(dict(x=w, xref="x3", y=py(575) if pos == "top" else py(708),
                            yref="paper", text=f"{sp}<br>{w}Å", showarrow=False,
                            textangle=-90, xanchor="right", yanchor="top", align="right",
                            font=dict(family=FONT, size=21, color="#222")))

# axis titles
def title(text, x, y, angle, size):
    return dict(x=px(x), y=py(y), xref="paper", yref="paper", text=text, textangle=angle,
                showarrow=False, xanchor="center", yanchor="middle",
                font=dict(family=FONT, size=size, color="#111"))

annotations += [
    title("Normalized Flux", 46, 145, -90, 27),
    title("|Gradient|", 35, 417, -90, 27),
    title("Median |Gradient|", 30, 678, -90, 26),
    title("Wavelength (Å)", 1127, 867, 0, 26),
]

# blue callout texts
def blue(text, x, y, anchor):
    return dict(x=px(x), y=py(y), xref="paper", yref="paper", text=text, showarrow=False,
                xanchor=anchor, yanchor="middle",
                font=dict(family=SERIF, size=48, color=BLUE))

annotations += [
    blue("Fe I", 909, 306, "right"),
    blue("Iron abundance", 601, 364, "left"),
    blue("refinement", 601, 421, "left"),
    blue("H<i>β</i>", 1267, 307, "left"),
    blue("Effective", 1267, 364, "left"),
    blue("temperature", 1267, 421, "left"),
    blue("Mg I b", 1665, 347, "left"),
    blue("Overall metallicity", 1665, 404, "left"),
]

legend_common = dict(font=dict(family=FONT, size=23, color="#111"),
                     bgcolor="rgba(255,255,255,0.9)", bordercolor="#d5d5d5", borderwidth=1,
                     itemwidth=48, xanchor="right", x=px(2114), traceorder="normal")

fig.update_layout(
    width=W, height=H, autosize=False,
    margin=dict(l=0, r=0, t=0, b=0, autoexpand=False),
    paper_bgcolor="white", plot_bgcolor="white",
    shapes=shapes, annotations=annotations,
    legend=dict(**legend_common, y=py(268), yanchor="bottom"),
    legend2=dict(**legend_common, y=py(293), yanchor="top"),
    legend3=dict(**legend_common, y=py(560), yanchor="top"),
    hovermode=False,
)

fig.write_html("out.html")
